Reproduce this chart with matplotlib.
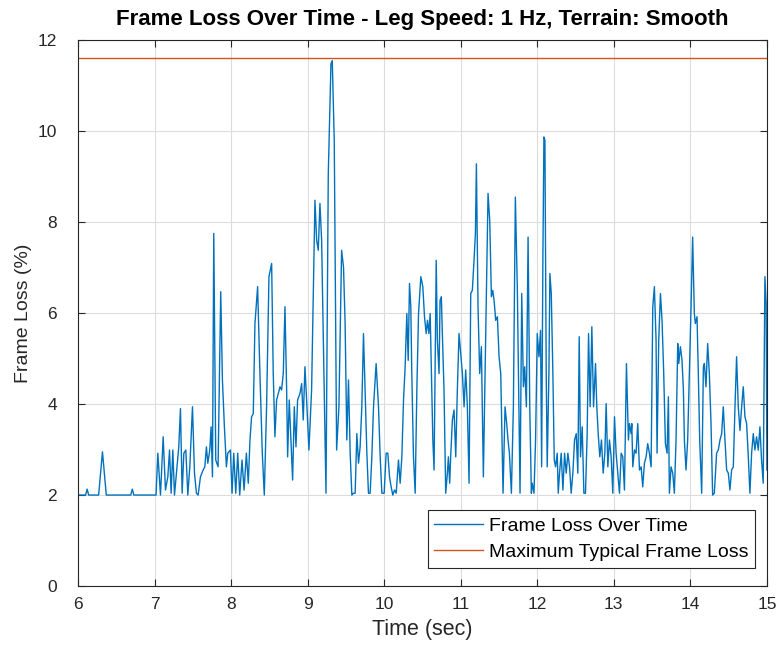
import matplotlib
matplotlib.use("Agg")
import matplotlib.pyplot as plt

# --- data ---
time_sec = [
    6.00, 6.10, 6.12, 6.14, 6.27, 6.32, 6.37, 6.69, 6.71, 6.73, 7.02,
    7.043, 7.078, 7.113, 7.143, 7.174, 7.196, 7.217, 7.239, 7.261, 7.287,
    7.317, 7.339, 7.361, 7.383, 7.409, 7.435, 7.461, 7.496, 7.522, 7.548,
    7.570, 7.600, 7.635, 7.657, 7.678, 7.696, 7.722, 7.739, 7.757, 7.774,
    7.800, 7.830, 7.865, 7.887, 7.913, 7.939, 7.957, 7.991, 8.013, 8.035,
    8.061, 8.087, 8.113, 8.143, 8.170, 8.200, 8.225, 8.247, 8.268, 8.290,
    8.312, 8.347, 8.377, 8.408, 8.434, 8.464, 8.495, 8.530, 8.551, 8.573,
    8.595, 8.617, 8.639, 8.660, 8.682, 8.704, 8.726, 8.739, 8.760, 8.782,
    8.804, 8.826, 8.848, 8.869, 8.900, 8.922, 8.943, 8.965, 8.987, 9.017,
    9.052, 9.096, 9.118, 9.139, 9.161, 9.183, 9.213, 9.240, 9.270, 9.305,
    9.322, 9.348, 9.379, 9.409, 9.444, 9.469, 9.490, 9.512, 9.534, 9.556,
    9.578, 9.599, 9.621, 9.643, 9.665, 9.686, 9.708, 9.730, 9.752, 9.774,
    9.795, 9.817, 9.839, 9.861, 9.895, 9.926, 9.948, 9.970, 10.000, 10.026,
    10.048, 10.070, 10.091, 10.113, 10.135, 10.157, 10.187, 10.209, 10.231, 10.253,
    10.274, 10.296, 10.314, 10.331, 10.348, 10.361, 10.383, 10.405, 10.427, 10.449,
    10.479, 10.505, 10.527, 10.549, 10.566, 10.584, 10.601, 10.618, 10.636, 10.652,
    10.680, 10.695, 10.717, 10.730, 10.747, 10.760, 10.782, 10.804, 10.826, 10.839,
    10.856, 10.869, 10.891, 10.913, 10.935, 10.956, 10.978, 11.000, 11.022, 11.044,
    11.065, 11.087, 11.109, 11.131, 11.152, 11.174, 11.192, 11.205, 11.226, 11.248,
    11.270, 11.296, 11.327, 11.357, 11.379, 11.401, 11.418, 11.436, 11.457, 11.479,
    11.501, 11.523, 11.553, 11.579, 11.601, 11.618, 11.636, 11.662, 11.688, 11.714,
    11.740, 11.775, 11.797, 11.819, 11.836, 11.858, 11.880, 11.902, 11.923, 11.935,
    11.957, 11.978, 12.000, 12.022, 12.043, 12.057, 12.074, 12.087, 12.100, 12.117,
    12.130, 12.152, 12.165, 12.183, 12.204, 12.222, 12.239, 12.261, 12.274, 12.291,
    12.313, 12.335, 12.357, 12.378, 12.400, 12.422, 12.443, 12.465, 12.487, 12.509,
    12.530, 12.548, 12.565, 12.587, 12.609, 12.630, 12.652, 12.670, 12.691, 12.713,
    12.735, 12.761, 12.778, 12.796, 12.817, 12.839, 12.861, 12.883, 12.900, 12.922,
    12.943, 12.965, 12.987, 13.009, 13.030, 13.052, 13.074, 13.096, 13.117, 13.139,
    13.165, 13.191, 13.204, 13.226, 13.235, 13.248, 13.270, 13.291, 13.313, 13.335,
    13.357, 13.378, 13.400, 13.422, 13.443, 13.465, 13.487, 13.509, 13.530, 13.552,
    13.565, 13.587, 13.609, 13.630, 13.652, 13.674, 13.696, 13.713, 13.726, 13.748,
    13.770, 13.791, 13.813, 13.835, 13.848, 13.870, 13.891, 13.909, 13.922, 13.943,
    13.965, 13.987, 14.009, 14.030, 14.052, 14.065, 14.087, 14.104, 14.122, 14.148,
    14.170, 14.183, 14.204, 14.226, 14.248, 14.270, 14.291, 14.313, 14.343, 14.365,
    14.387, 14.409, 14.430, 14.452, 14.474, 14.496, 14.517, 14.539, 14.561, 14.583,
    14.604, 14.626, 14.648, 14.670, 14.691, 14.713, 14.735, 14.757, 14.778, 14.800,
    14.822, 14.843, 14.865, 14.887, 14.909, 14.930, 14.952, 14.974, 14.990, 15.000,
]

frame_loss = [
    2.00, 2.00, 2.13, 2.00, 2.00, 2.95, 2.00, 2.00, 2.13, 2.00, 2.00,
    2.92, 2.00, 3.28, 2.11, 2.40, 2.99, 2.04, 2.99, 2.00, 2.48,
    3.06, 3.90, 2.04, 2.92, 2.99, 2.00, 2.62, 3.94, 2.48, 2.04,
    2.00, 2.40, 2.55, 2.62, 3.06, 2.70, 2.99, 3.50, 2.40, 7.75,
    2.77, 2.62, 6.47, 4.53, 3.50, 2.62, 2.92, 2.99, 2.04, 2.92,
    2.04, 2.92, 2.00, 2.77, 2.11, 2.92, 2.26, 3.21, 3.72, 3.79,
    5.77, 6.58, 4.67, 2.92, 2.00, 3.94, 6.80, 7.09, 4.67, 3.28,
    4.09, 4.23, 4.38, 4.31, 4.67, 6.14, 4.31, 2.84, 4.09, 3.21,
    2.33, 3.94, 3.06, 4.09, 4.23, 4.45, 3.65, 4.82, 4.09, 2.99,
    4.31, 8.48, 7.60, 7.38, 8.41, 7.60, 4.67, 2.04, 9.06, 11.48,
    11.55, 9.80, 2.99, 3.94, 7.38, 7.01, 5.77, 3.21, 4.53, 2.92,
    2.00, 2.04, 2.04, 3.35, 2.70, 3.06, 3.94, 5.55, 4.23, 2.92,
    2.04, 2.04, 2.84, 3.94, 4.89, 3.94, 2.84, 2.04, 2.04, 2.92,
    2.92, 2.40, 2.18, 2.00, 2.11, 2.04, 2.77, 2.26, 2.84, 4.09,
    4.82, 5.99, 4.96, 6.65, 6.14, 4.67, 2.84, 2.04, 4.31, 5.99,
    6.80, 6.58, 5.92, 5.55, 5.84, 5.55, 5.99, 4.67, 3.21, 2.55,
    7.16, 5.40, 4.67, 6.28, 6.36, 5.55, 4.31, 2.04, 2.48, 2.84,
    2.26, 2.84, 3.65, 3.87, 2.84, 4.31, 5.55, 5.11, 4.67, 3.94,
    4.75, 3.94, 2.26, 6.43, 6.50, 7.16, 7.75, 9.28, 6.14, 4.67,
    5.26, 2.40, 5.55, 8.63, 8.04, 6.36, 6.50, 6.28, 5.84, 5.92,
    5.04, 4.67, 2.04, 3.94, 3.57, 3.21, 2.92, 2.04, 3.94, 8.55,
    6.50, 2.04, 6.43, 4.38, 4.82, 3.94, 7.67, 3.94, 2.04, 2.26,
    2.04, 3.21, 5.55, 5.04, 5.62, 2.62, 7.31, 9.87, 9.80, 4.67,
    2.62, 4.67, 6.87, 6.43, 4.67, 2.77, 2.62, 2.92, 2.04, 2.48,
    2.92, 2.11, 2.92, 2.48, 2.92, 2.62, 2.04, 2.48, 3.21, 3.35,
    2.48, 5.48, 2.84, 3.50, 2.04, 2.04, 3.35, 5.55, 3.94, 5.70,
    3.94, 4.89, 3.94, 3.35, 2.84, 3.21, 2.48, 2.92, 4.01, 2.62,
    3.21, 2.84, 2.04, 3.72, 2.92, 2.48, 2.04, 2.92, 2.84, 2.11,
    4.89, 3.21, 3.57, 3.35, 3.57, 2.62, 2.99, 2.92, 3.57, 2.55,
    2.62, 2.18, 2.70, 2.84, 3.13, 2.92, 2.62, 6.14, 6.58, 5.40,
    2.92, 5.40, 6.43, 5.84, 4.67, 3.13, 2.92, 4.16, 2.04, 2.62,
    2.48, 2.04, 3.21, 5.33, 4.89, 5.26, 4.96, 4.31, 3.21, 2.55,
    3.21, 4.67, 6.14, 7.67, 5.99, 5.77, 5.92, 4.67, 3.21, 2.04,
    4.82, 4.89, 4.38, 5.33, 4.67, 3.57, 2.00, 2.04, 2.92, 2.99,
    3.21, 3.35, 3.94, 3.21, 2.55, 2.48, 2.11, 2.55, 2.62, 3.94,
    5.04, 3.94, 3.42, 3.94, 4.38, 3.72, 3.57, 2.84, 2.04, 2.92,
    3.35, 2.99, 3.28, 2.99, 3.50, 2.77, 2.26, 6.80, 6.20, 2.55,
]

max_typical_loss = 11.6
x_range = [6, 15]

plt.rcParams['font.family'] = ['Liberation Sans', 'DejaVu Sans']

fig = plt.figure(figsize=(7.82, 6.57), dpi=100)
ax = fig.add_axes([0.0997, 0.108, 0.881, 0.831])

ax.plot(time_sec, frame_loss, color='#0072BD', linewidth=1.0,
        label='Frame Loss Over Time')
ax.plot(x_range, [max_typical_loss, max_typical_loss], color='#D95319',
        linewidth=1.0, label='Maximum Typical Frame Loss')

ax.set_xlim(6, 15)
ax.set_ylim(0, 12)
ax.set_xticks(range(6, 16))
ax.set_yticks(range(0, 13, 2))

# matlab-ish axes look
ax.grid(True, color='#dcdcdc', linewidth=0.8)
ax.set_axisbelow(True)
for side in ax.spines.values():
    side.set_color('#262626')
    side.set_linewidth(0.8)
ax.tick_params(direction='in', top=True, right=True, length=5,
               labelsize=12.5, colors='#262626', labelcolor='#262626')
ax.tick_params(axis='y', pad=15)
ax.tick_params(axis='x', pad=8)

ax.set_xlabel('Time (sec)', fontsize=15.5, color='#262626', labelpad=5)
ax.set_ylabel('Frame Loss (%)', fontsize=14, color='#262626', labelpad=4)
ax.set_title('Frame Loss Over Time - Leg Speed: 1 Hz, Terrain: Smooth',
             fontsize=16, fontweight='bold', color='#000000', pad=11)

leg = ax.legend(loc='lower right', bbox_to_anchor=(0.983, 0.033),
                borderaxespad=0, fontsize=14, fancybox=False,
                framealpha=1, edgecolor='#262626', handlelength=2.5,
                handletextpad=0.3, borderpad=0.35, labelspacing=0.45)
leg.get_frame().set_linewidth(0.8)

fig.savefig('out.png', dpi=100)
